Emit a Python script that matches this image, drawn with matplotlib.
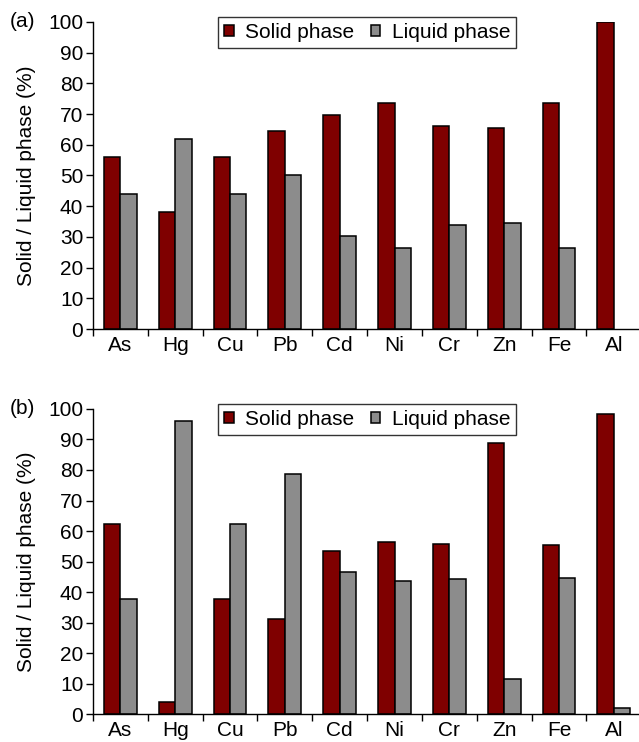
import matplotlib.pyplot as plt
import numpy as np

plt.rcParams['font.family'] = ['Liberation Sans', 'DejaVu Sans']

metales = ["As", "Hg", "Cu", "Pb", "Cd", "Ni", "Cr", "Zn", "Fe", "Al"]

# (a)
solido_a = [56.0, 38.0, 56.0, 64.5, 69.7, 73.5, 66.0, 65.6, 73.6, 100.0]
liquido_a = [44.0, 62.0, 44.0, 50.0, 30.3, 26.5, 34.0, 34.4, 26.4, 0.0]

# (b)
solido_b = [62.2, 3.8, 37.7, 31.0, 53.4, 56.5, 55.6, 88.9, 55.5, 98.2]
liquido_b = [37.8, 96.0, 62.4, 78.8, 46.7, 43.5, 44.4, 11.4, 44.6, 1.9]

ROJO = "#7f0000"
GRIS = "#8c8c8c"
ANCHO = 0.3
FS = 15


def panel(ax, solido, liquido, etiqueta):
    x = np.arange(len(metales))
    ax.bar(x - ANCHO / 2, solido, ANCHO, color=ROJO, edgecolor="black",
           linewidth=1.1, label="Solid phase")
    # barras de altura 0 no se dibujan (sin borde)
    liq = np.array(liquido, dtype=float)
    ax.bar(x + ANCHO / 2, liq, ANCHO, color=GRIS,
           edgecolor=["black" if v > 0 else "none" for v in liq],
           linewidth=1.1, label="Liquid phase")
    ax.set_xlim(-0.5, len(metales) - 0.5)
    ax.set_ylim(0, 100)
    ax.set_yticks(range(0, 101, 10))
    ax.set_xticks(x)
    ax.set_xticklabels(metales, fontsize=FS)
    ax.tick_params(axis="x", which="major", length=0, pad=5)
    ax.set_xticks(np.arange(-0.5, len(metales), 1.0), minor=True)
    ax.tick_params(axis="x", which="minor", length=5, width=1, direction="out")
    ax.tick_params(axis="y", labelsize=FS, length=5, width=1, direction="out", pad=2)
    for s in ("top", "right"):
        ax.spines[s].set_visible(False)
    ax.spines["left"].set_linewidth(1)
    ax.spines["bottom"].set_linewidth(1)
    ax.set_ylabel("Solid / Liquid phase (%)", fontsize=FS, labelpad=9)
    leg = ax.legend(loc="upper left", bbox_to_anchor=(0.228, 1.017), ncol=2,
                    fontsize=FS, frameon=True, fancybox=False,
                    handlelength=0.45, handleheight=0.45, handletextpad=0.55,
                    columnspacing=0.8, borderpad=0.3, borderaxespad=0)
    leg.get_frame().set_edgecolor("black")
    leg.get_frame().set_linewidth(1)
    ax.text(-0.152, 1.0, etiqueta, transform=ax.transAxes, fontsize=FS,
            ha="left", va="center")


fig = plt.figure(figsize=(6.39, 7.42), dpi=100)
ax1 = fig.add_axes([0.1455, 0.5566, 0.858, 0.4138])
ax2 = fig.add_axes([0.1455, 0.0377, 0.858, 0.4111])
panel(ax1, solido_a, liquido_a, "(a)")
panel(ax2, solido_b, liquido_b, "(b)")

fig.savefig("out.png", dpi=100)
